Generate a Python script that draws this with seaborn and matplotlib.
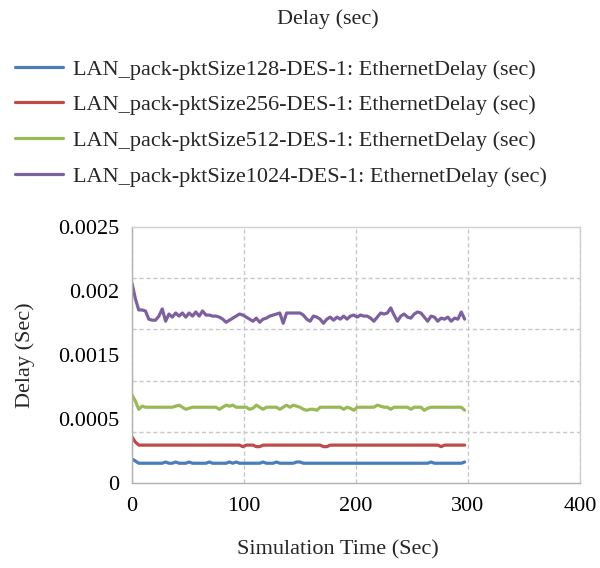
import numpy as np
import pandas as pd
import matplotlib
matplotlib.use("Agg")
import matplotlib.pyplot as plt
from matplotlib.ticker import MultipleLocator
import seaborn as sns

# simulation time (sec), one sample every 3 s
time_sec = np.arange(0, 300, 3)

# delay values, in milliseconds
delay_128_ms = [0.235, 0.215, 0.193, 0.193, 0.193, 0.193, 0.193, 0.193, 0.193, 0.193,
                0.205, 0.193, 0.193, 0.205, 0.193, 0.193, 0.193, 0.205, 0.193, 0.193,
                0.193, 0.193, 0.193, 0.205, 0.193, 0.193, 0.193, 0.193, 0.193, 0.205,
                0.193, 0.205, 0.193, 0.193, 0.193, 0.193, 0.193, 0.193, 0.193, 0.205,
                0.193, 0.193, 0.193, 0.205, 0.193, 0.193, 0.193, 0.193, 0.193, 0.205,
                0.205, 0.193, 0.193, 0.193, 0.193, 0.193, 0.193, 0.193, 0.193, 0.193,
                0.193, 0.193, 0.193, 0.193, 0.193, 0.193, 0.193, 0.193, 0.193, 0.193,
                0.193, 0.193, 0.193, 0.193, 0.193, 0.193, 0.193, 0.193, 0.193, 0.193,
                0.193, 0.193, 0.193, 0.193, 0.193, 0.193, 0.193, 0.193, 0.193, 0.205,
                0.193, 0.193, 0.193, 0.193, 0.193, 0.193, 0.193, 0.193, 0.193, 0.205]

delay_256_ms = [0.45, 0.40, 0.37, 0.37, 0.37, 0.37, 0.37, 0.37, 0.37, 0.37,
                0.37, 0.37, 0.37, 0.37, 0.37, 0.37, 0.37, 0.37, 0.37, 0.37,
                0.37, 0.37, 0.37, 0.37, 0.37, 0.37, 0.37, 0.37, 0.37, 0.37,
                0.37, 0.37, 0.37, 0.355, 0.37, 0.37, 0.37, 0.355, 0.355, 0.37,
                0.37, 0.37, 0.37, 0.37, 0.37, 0.37, 0.37, 0.37, 0.37, 0.37,
                0.37, 0.37, 0.37, 0.37, 0.37, 0.37, 0.37, 0.355, 0.355, 0.37,
                0.37, 0.37, 0.37, 0.37, 0.37, 0.37, 0.37, 0.37, 0.37, 0.37,
                0.37, 0.37, 0.37, 0.37, 0.37, 0.37, 0.37, 0.37, 0.37, 0.37,
                0.37, 0.37, 0.37, 0.37, 0.37, 0.37, 0.37, 0.37, 0.37, 0.37,
                0.37, 0.37, 0.355, 0.37, 0.37, 0.37, 0.37, 0.37, 0.37, 0.37]

delay_512_ms = [0.86, 0.80, 0.72, 0.75, 0.74, 0.74, 0.74, 0.74, 0.74, 0.74,
                0.74, 0.74, 0.74, 0.75, 0.76, 0.74, 0.72, 0.73, 0.74, 0.74,
                0.74, 0.74, 0.74, 0.74, 0.74, 0.74, 0.72, 0.74, 0.76, 0.75,
                0.76, 0.74, 0.74, 0.74, 0.74, 0.72, 0.73, 0.76, 0.74, 0.72,
                0.74, 0.74, 0.74, 0.74, 0.72, 0.74, 0.76, 0.74, 0.76, 0.75,
                0.74, 0.72, 0.71, 0.72, 0.72, 0.71, 0.74, 0.74, 0.74, 0.74,
                0.74, 0.74, 0.74, 0.72, 0.74, 0.73, 0.71, 0.74, 0.74, 0.74,
                0.74, 0.74, 0.74, 0.76, 0.75, 0.74, 0.74, 0.72, 0.74, 0.74,
                0.74, 0.74, 0.74, 0.72, 0.74, 0.74, 0.74, 0.71, 0.73, 0.74,
                0.74, 0.74, 0.74, 0.74, 0.74, 0.74, 0.74, 0.74, 0.74, 0.71]

delay_1024_ms = [1.95, 1.80, 1.69, 1.69, 1.68, 1.60, 1.59, 1.59, 1.63, 1.70,
                 1.58, 1.65, 1.62, 1.66, 1.63, 1.66, 1.62, 1.66, 1.63, 1.67,
                 1.63, 1.68, 1.64, 1.64, 1.63, 1.63, 1.62, 1.60, 1.57, 1.59,
                 1.61, 1.63, 1.65, 1.64, 1.62, 1.60, 1.58, 1.61, 1.57, 1.60,
                 1.61, 1.63, 1.64, 1.65, 1.66, 1.56, 1.66, 1.66, 1.66, 1.66,
                 1.66, 1.64, 1.60, 1.58, 1.63, 1.62, 1.60, 1.56, 1.60, 1.62,
                 1.59, 1.62, 1.60, 1.63, 1.60, 1.63, 1.64, 1.62, 1.64, 1.63,
                 1.63, 1.61, 1.58, 1.62, 1.66, 1.65, 1.66, 1.71, 1.64, 1.58,
                 1.63, 1.65, 1.62, 1.61, 1.65, 1.67, 1.66, 1.62, 1.58, 1.63,
                 1.62, 1.58, 1.61, 1.60, 1.62, 1.58, 1.61, 1.60, 1.67, 1.60]

series_names = ["LAN_pack-pktSize128-DES-1: EthernetDelay (sec)",
                "LAN_pack-pktSize256-DES-1: EthernetDelay (sec)",
                "LAN_pack-pktSize512-DES-1: EthernetDelay (sec)",
                "LAN_pack-pktSize1024-DES-1: EthernetDelay (sec)"]
series_colors = ["#4a7ebb", "#be4b48", "#98b954", "#7d60a0"]

x_ticks = [0, 100, 200, 300, 400]
y_tick_labels = ["0", "0.0005", "0.0015", "0.002", "0.0025"]

# long-form table for seaborn
frames = []
for name, vals in zip(series_names, [delay_128_ms, delay_256_ms, delay_512_ms, delay_1024_ms]):
    frames.append(pd.DataFrame({"time": time_sec,
                                "delay": np.array(vals) / 1000.0,
                                "series": name}))
df = pd.concat(frames, ignore_index=True)

sns.set_theme(style="white")
plt.rcParams["font.family"] = ["Liberation Serif", "DejaVu Serif"]
fs = 16

fig = plt.figure(figsize=(6.0, 5.68), dpi=100)
ax = fig.add_axes([132/600, 85/568, 448/600, 256/568])

sns.lineplot(data=df, x="time", y="delay", hue="series", hue_order=series_names,
             palette=series_colors, linewidth=2.3, ax=ax)

ax.set_xlim(0, 400)
ax.set_ylim(0, 0.0025)
ax.set_xticks(x_ticks)
ax.set_xticklabels([str(v) for v in x_ticks], fontsize=fs)
# the labels in the reference are spread evenly, not on the grid lines
ax.set_yticks(np.linspace(0, 0.0025, len(y_tick_labels)))
ax.set_yticklabels(y_tick_labels, fontsize=fs)
ax.yaxis.set_minor_locator(MultipleLocator(0.0005))
ax.tick_params(axis="both", which="both", length=0, colors="black")
ax.tick_params(axis="y", pad=9)
ax.tick_params(axis="x", pad=10)

grid_kw = dict(color="#c8c8c8", linestyle=(0, (3, 2)), linewidth=1.0)
ax.grid(False)
ax.yaxis.grid(True, which="minor", **grid_kw)
ax.xaxis.grid(True, which="major", **grid_kw)
for side, sp in ax.spines.items():
    sp.set_color("#b0b0b0" if side in ("left", "bottom") else "#d0d0d0")
    sp.set_linewidth(1.0)

ax.set_xlabel("")
ax.set_ylabel("")
fig.text(25/600, 1 - 355/568, "Delay (Sec)", rotation=90, ha="center", va="center", fontsize=fs)
fig.text(338/600, 1 - 550/568, "Simulation Time (Sec)", ha="center", va="center", fontsize=fs)
fig.text(328/600, 1 - 19/568, "Delay (sec)", ha="center", va="center", fontsize=fs)

sns.move_legend(ax, "upper left", bbox_to_anchor=(15/600, 1 - 59/568),
                bbox_transform=fig.transFigure, frameon=False, title=None,
                fontsize=fs, handlelength=2.15, handletextpad=0.45,
                labelspacing=0.68, borderpad=0, borderaxespad=0)

plt.savefig("out.png", dpi=100)
